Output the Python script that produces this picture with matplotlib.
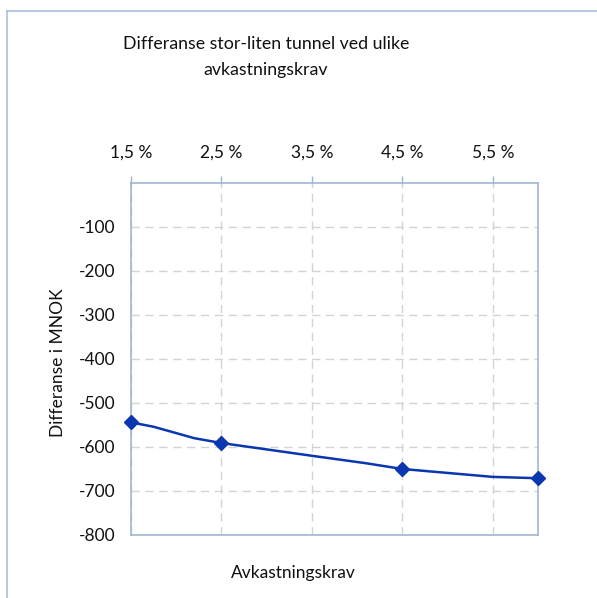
import matplotlib
matplotlib.use("Agg")
import matplotlib.pyplot as plt
from matplotlib.lines import Line2D

# Required return (%) and the difference large vs. small tunnel (MNOK)
rate = [1.5, 1.75, 2.2, 2.5, 3.5, 4.1, 4.5, 5.5, 6.0]
diff = [-545, -555, -581, -592, -621, -638, -651, -669, -672]
marker_idx = [0, 3, 6, 8]

x_ticks = [1.5, 2.5, 3.5, 4.5, 5.5]
x_ticklabels = ["1,5 %", "2,5 %", "3,5 %", "4,5 %", "5,5 %"]
y_ticks = [-100, -200, -300, -400, -500, -600, -700, -800]
y_ticklabels = ["-100", "-200", "-300", "-400", "-500", "-600", "-700", "-800"]

title = "Differanse stor-liten tunnel ved ulike\navkastningskrav"
x_label = "Avkastningskrav"
y_label = "Differanse i MNOK"

plt.rcParams["font.family"] = ["Lato", "DejaVu Sans"]
FS = 12.5

W, H = 597, 598
fig = plt.figure(figsize=(W / 100, H / 100), dpi=100)

# outer chart frame
frame_col = "#a9c0dc"
fig.add_artist(Line2D([7 / W, 7 / W], [0, 1 - 10.5 / H], transform=fig.transFigure,
                      color=frame_col, lw=1.2))
fig.add_artist(Line2D([7 / W, 1], [1 - 10.5 / H, 1 - 10.5 / H], transform=fig.transFigure,
                      color=frame_col, lw=1.2))

left, right, top, bottom = 131, 538, 182.7, 534.5
ax = fig.add_axes([left / W, 1 - bottom / H, (right - left) / W, (bottom - top) / H])

ax.plot(rate, diff, color="#0a37b0", lw=1.8, marker="D", markersize=7.5,
        markevery=marker_idx, zorder=3, clip_on=False)

ax.set_xlim(1.5, 6.0)
ax.set_ylim(-800, 0)

ax.xaxis.tick_top()
ax.set_xticks(x_ticks)
ax.set_xticklabels(x_ticklabels, fontsize=FS, color="#111111")
ax.set_yticks(y_ticks)
ax.set_yticklabels(y_ticklabels, fontsize=FS, color="#111111")

spine_col = "#9fb6d2"
for s in ax.spines.values():
    s.set_color(spine_col)
    s.set_linewidth(1.2)

ax.tick_params(axis="x", which="major", direction="out", length=5, width=1,
               color=spine_col, pad=11)
ax.tick_params(axis="y", which="major", length=0, pad=11.5)

ax.grid(True, color="#d3d3d3", lw=1, linestyle=(0, (6, 4)))
ax.set_axisbelow(True)

fig.text(266 / W, 1 - 57 / H, title, ha="center", va="center", fontsize=FS + 0.3,
         linespacing=1.75, color="#111111")
fig.text(293 / W, 1 - 573 / H, x_label, ha="center", va="center", fontsize=FS,
         color="#111111")
fig.text(58 / W, 1 - 363 / H, y_label, ha="center", va="center", fontsize=FS,
         rotation=90, color="#111111")

fig.savefig("out.png", dpi=100)
